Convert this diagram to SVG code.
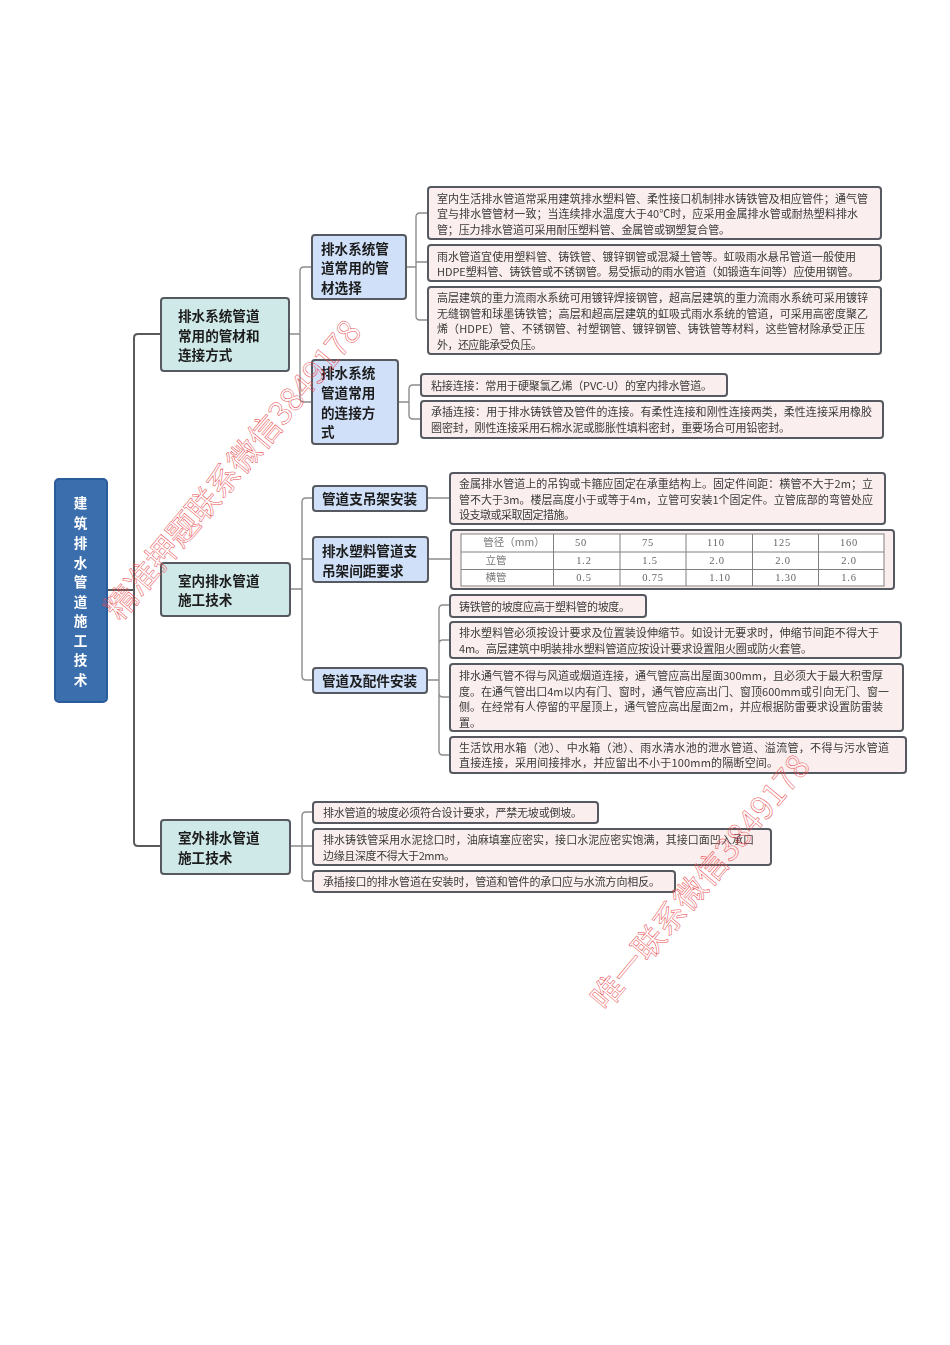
<svg xmlns="http://www.w3.org/2000/svg" width="950" height="1345" viewBox="0 0 950 1345">
<defs>
<filter id="soft" x="-5%" y="-5%" width="110%" height="110%"><feGaussianBlur stdDeviation="0.35"/></filter>
</defs>
<style>
text{font-family:"Noto Sans CJK SC","Noto Sans",sans-serif}
.b{stroke:#565a60;stroke-width:2}
.root{fill:#3a6eac;stroke:#2b5c9c;stroke-width:2}
.l1{fill:#cfe8e8}
.l2{fill:#cfe0f8}
.leaf{fill:#faeeee}
.t1{font-size:13.6px;font-weight:700;fill:#1c1c1c}
.tr{font-size:13.6px;font-weight:700;fill:#fff;text-anchor:middle}
.t{font-size:11px;fill:#3a3a3a}
.c1{fill:none;stroke:#5a5a5a;stroke-width:2}
.c2{fill:none;stroke:#8c8c8c;stroke-width:1.4}
.g{stroke:#808080;stroke-width:1}
.n{font-family:"Liberation Serif",serif;font-size:10.5px;fill:#666;text-anchor:middle;letter-spacing:.8px}
.nz{font-size:10.5px;fill:#777;text-anchor:middle}
.w{font-size:32px;fill:none;stroke:#e8484c;stroke-width:.5}
</style>
<rect width="950" height="1345" fill="#fff"/>
<g filter="url(#soft)">
<g id="connectors">
<path class="c1" d="M107 590H134M160 334H138Q134 334 134 338V842Q134 846 138 846H160"/>
<path class="c2" d="M289 334H300M312 267H304Q300 267 300 271V398Q300 402 304 402H312"/>
<path class="c2" d="M406 267H416M428 213H420Q416 213 416 217V316Q416 320 420 320H428M416 262H428"/>
<path class="c2" d="M398 402H409M421 385H413Q409 385 409 389V415Q409 419 413 419H421"/>
<path class="c2" d="M290 589H302M313 498H306Q302 498 302 502V676Q302 680 306 680H313M302 559H313"/>
<path class="c2" d="M427 498H450M428 559H451"/>
<path class="c2" d="M427 680H439M450 605H443Q439 605 439 609V751Q439 755 443 755H450M439 644Q439 640 443 640H450M439 693Q439 697 443 697H450"/>
<path class="c2" d="M290 846H302M313 812H306Q302 812 302 816V877Q302 881 306 881H313M302 846H313"/>
</g>
<g id="root"><rect class="root" x="55" y="479" width="52" height="223" rx="4"/>
<text class="tr" x="80.500" y="508">建</text><text class="tr" x="80.500" y="528">筑</text><text class="tr" x="80.500" y="548">排</text><text class="tr" x="80.500" y="568">水</text><text class="tr" x="80.500" y="587">管</text><text class="tr" x="80.500" y="607">道</text><text class="tr" x="80.500" y="626">施</text><text class="tr" x="80.500" y="646">工</text><text class="tr" x="80.500" y="665">技</text><text class="tr" x="80.500" y="685">术</text></g>
<g id="n1"><rect class="b l1" x="161" y="298" width="128" height="73" rx="3"/>
<text class="t1" x="178" y="321">排水系统管道</text><text class="t1" x="178" y="341">常用的管材和</text><text class="t1" x="178" y="360">连接方式</text></g>
<g id="n2"><rect class="b l1" x="161" y="563" width="129" height="53" rx="3"/>
<text class="t1" x="178" y="586">室内排水管道</text><text class="t1" x="178" y="605">施工技术</text></g>
<g id="n3"><rect class="b l1" x="161" y="820" width="129" height="54" rx="3"/>
<text class="t1" x="178" y="843">室外排水管道</text><text class="t1" x="178" y="863">施工技术</text></g>
<g id="n1a"><rect class="b l2" x="312" y="235" width="94" height="64" rx="3"/>
<text class="t1" x="321" y="254">排水系统管</text><text class="t1" x="321" y="273">道常用的管</text><text class="t1" x="321" y="293">材选择</text></g>
<g id="n1b"><rect class="b l2" x="312" y="360" width="86" height="84" rx="3"/>
<text class="t1" x="321" y="378">排水系统</text><text class="t1" x="321" y="398">管道常用</text><text class="t1" x="321" y="418">的连接方</text><text class="t1" x="321" y="437">式</text></g>
<g id="n2a"><rect class="b l2" x="313" y="486" width="114" height="25" rx="3"/><text class="t1" x="322" y="504">管道支吊架安装</text></g>
<g id="n2b"><rect class="b l2" x="313" y="537" width="115" height="45" rx="3"/><text class="t1" x="322" y="556">排水塑料管道支</text><text class="t1" x="322" y="576">吊架间距要求</text></g>
<g id="n2c"><rect class="b l2" x="313" y="668" width="114" height="25" rx="3"/><text class="t1" x="322" y="686">管道及配件安装</text></g>
<g id="leaf1"><rect class="b leaf" x="428" y="187" width="453" height="52" rx="3"/>
<text class="t" x="437" y="203" textLength="431">室内生活排水管道常采用建筑排水塑料管、柔性接口机制排水铸铁管及相应管件；通气管</text>
<text class="t" x="437" y="218" textLength="421">宜与排水管管材一致；当连续排水温度大于40℃时，应采用金属排水管或耐热塑料排水</text>
<text class="t" x="437" y="234" textLength="293">管；压力排水管道可采用耐压塑料管、金属管或钢塑复合管。</text></g>
<g id="leaf2"><rect class="b leaf" x="428" y="245" width="453" height="36" rx="3"/>
<text class="t" x="437" y="261" textLength="419">雨水管道宜使用塑料管、铸铁管、镀锌钢管或混凝土管等。虹吸雨水悬吊管道一般使用</text>
<text class="t" x="437" y="276" textLength="422">HDPE塑料管、铸铁管或不锈钢管。易受振动的雨水管道（如锻造车间等）应使用钢管。</text></g>
<g id="leaf3"><rect class="b leaf" x="428" y="287" width="453" height="67" rx="3"/>
<text class="t" x="437" y="302" textLength="431">高层建筑的重力流雨水系统可用镀锌焊接钢管，超高层建筑的重力流雨水系统可采用镀锌</text>
<text class="t" x="437" y="318" textLength="431">无缝钢管和球墨铸铁管；高层和超高层建筑的虹吸式雨水系统的管道，可采用高密度聚乙</text>
<text class="t" x="437" y="333" textLength="428">烯（HDPE）管、不锈钢管、衬塑钢管、镀锌钢管、铸铁管等材料，这些管材除承受正压</text>
<text class="t" x="437" y="349" textLength="105">外，还应能承受负压。</text></g>
<g id="leaf4"><rect class="b leaf" x="421" y="374" width="306" height="22" rx="3"/>
<text class="t" x="431" y="390" textLength="281">粘接连接：常用于硬聚氯乙烯（PVC-U）的室内排水管道。</text></g>
<g id="leaf5"><rect class="b leaf" x="421" y="401" width="462" height="37" rx="3"/>
<text class="t" x="431" y="416" textLength="441">承插连接：用于排水铸铁管及管件的连接。有柔性连接和刚性连接两类，柔性连接采用橡胶</text>
<text class="t" x="431" y="432" textLength="359">圈密封，刚性连接采用石棉水泥或膨胀性填料密封，重要场合可用铅密封。</text></g>
<g id="leaf6"><rect class="b leaf" x="450" y="473" width="435" height="51" rx="3"/>
<text class="t" x="459" y="488" textLength="414">金属排水管道上的吊钩或卡箍应固定在承重结构上。固定件间距：横管不大于2m；立</text>
<text class="t" x="459" y="504" textLength="414">管不大于3m。楼层高度小于或等于4m，立管可安装1个固定件。立管底部的弯管处应</text>
<text class="t" x="459" y="519" textLength="116">设支墩或采取固定措施。</text></g>
<g id="leaf-table"><rect class="b leaf" x="451" y="530" width="443" height="59" rx="3"/>
<rect x="461" y="534" width="423" height="52" fill="#fff" stroke="#808080"/>
<path class="g" d="M461 552H884M461 569.500H884M553.500 534V586M620 534V586M686 534V586M752.500 534V586M818.500 534V586"/>
<text class="nz" x="514" y="546">管径（mm）</text><text class="n" x="581" y="546">50</text><text class="n" x="648" y="546">75</text><text class="n" x="716" y="546">110</text><text class="n" x="782" y="546">125</text><text class="n" x="849" y="546">160</text>
<text class="nz" x="496" y="564">立管</text><text class="n" x="584" y="564">1.2</text><text class="n" x="650" y="564">1.5</text><text class="n" x="717" y="564">2.0</text><text class="n" x="783" y="564">2.0</text><text class="n" x="849" y="564">2.0</text>
<text class="nz" x="496" y="581">横管</text><text class="n" x="584" y="581">0.5</text><text class="n" x="653" y="581">0.75</text><text class="n" x="720" y="581">1.10</text><text class="n" x="786" y="581">1.30</text><text class="n" x="849" y="581">1.6</text></g>
<g id="leaf7"><rect class="b leaf" x="450" y="595" width="196" height="22" rx="3"/>
<text class="t" x="459" y="611" textLength="171">铸铁管的坡度应高于塑料管的坡度。</text></g>
<g id="leaf8"><rect class="b leaf" x="450" y="622" width="451" height="36" rx="3"/>
<text class="t" x="459" y="637" textLength="420">排水塑料管必须按设计要求及位置装设伸缩节。如设计无要求时，伸缩节间距不得大于</text>
<text class="t" x="459" y="653" textLength="353">4m。高层建筑中明装排水塑料管道应按设计要求设置阻火圈或防火套管。</text></g>
<g id="leaf9"><rect class="b leaf" x="450" y="664" width="453" height="67" rx="3"/>
<text class="t" x="459" y="680" textLength="424">排水通气管不得与风道或烟道连接，通气管应高出屋面300mm，且必须大于最大积雪厚</text>
<text class="t" x="459" y="696" textLength="430">度。在通气管出口4m以内有门、窗时，通气管应高出门、窗顶600mm或引向无门、窗一</text>
<text class="t" x="459" y="711" textLength="424">侧。在经常有人停留的平屋顶上，通气管应高出屋面2m，并应根据防雷要求设置防雷装</text>
<text class="t" x="459" y="727">置。</text></g>
<g id="leaf10"><rect class="b leaf" x="450" y="737" width="456" height="36" rx="3"/>
<text class="t" x="459" y="752" textLength="430">生活饮用水箱（池）、中水箱（池）、雨水清水池的泄水管道、溢流管，不得与污水管道</text>
<text class="t" x="459" y="767" textLength="319">直接连接，采用间接排水，并应留出不小于100mm的隔断空间。</text></g>
<g id="leaf11"><rect class="b leaf" x="313" y="802" width="285" height="21" rx="3"/>
<text class="t" x="323" y="817" textLength="259">排水管道的坡度必须符合设计要求，严禁无坡或倒坡。</text></g>
<g id="leaf12"><rect class="b leaf" x="313" y="829" width="458" height="36" rx="3"/>
<text class="t" x="323" y="844" textLength="431">排水铸铁管采用水泥捻口时，油麻填塞应密实，接口水泥应密实饱满，其接口面凹入承口</text>
<text class="t" x="323" y="860" textLength="132">边缘且深度不得大于2mm。</text></g>
<g id="leaf13"><rect class="b leaf" x="313" y="871" width="362" height="21" rx="3"/>
<text class="t" x="323" y="886" textLength="337">承插接口的排水管道在安装时，管道和管件的承口应与水流方向相反。</text></g>
</g>
<text class="w" transform="translate(120 622) rotate(-50)" textLength="378">精准押题联系微信3849178</text>
<text class="w" transform="translate(606 1012) rotate(-50)" textLength="320">唯一联系微信3849178</text>
</svg>
